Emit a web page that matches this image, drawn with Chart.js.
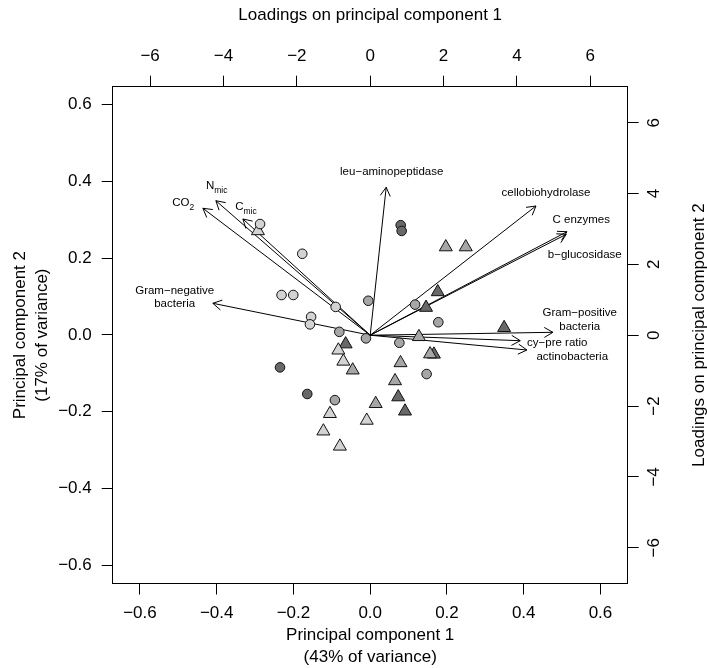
<!DOCTYPE html>
<html>
<head>
<meta charset="utf-8">
<script src="https://cdn.jsdelivr.net/npm/chart.js@4.4.1/dist/chart.umd.min.js"></script>
<style>
  html, body { margin: 0; padding: 0; background: #fff; }
  #wrap { width: 707px; height: 668px; }
</style>
</head>
<body>
<div id="wrap"><canvas id="biplot" width="707" height="668"></canvas></div>
<script>
// SITE SCORES (PC1, PC2), one pair of arrays per marker group
const circleLightPC1 = [-0.287, -0.177, -0.231, -0.2005, -0.090, -0.154, -0.157];
const circleLightPC2 = [0.289, 0.2115, 0.104, 0.104, 0.073, 0.047, 0.0275];
const circleMidPC1 = [-0.005, -0.0805, -0.011, 0.117, 0.1775, 0.076, 0.147, -0.092];
const circleMidPC2 = [0.089, 0.008, -0.009, 0.079, 0.033, -0.0205, -0.102, -0.170];
const circleDarkPC1 = [0.0795, 0.082, -0.235, -0.164];
const circleDarkPC2 = [0.286, 0.271, -0.0846, -0.154];
const triLightPC1 = [-0.2925, -0.083, -0.070, -0.105, -0.009, -0.122, -0.079];
const triLightPC2 = [0.271, -0.040, -0.069, -0.2055, -0.223, -0.251, -0.2905];
const triMidPC1 = [0.197, 0.249, 0.127, 0.156, -0.0456, 0.079, 0.0647, 0.0143];
const triMidPC2 = [0.229, 0.229, -0.005, -0.050, -0.092, -0.073, -0.120, -0.1795];
const triDarkPC1 = [0.176, 0.1455, 0.349, -0.064, 0.166, 0.073, 0.0907];
const triDarkPC2 = [0.112, 0.0713, 0.0186, -0.024, -0.0507, -0.162, -0.199];

// VARIABLE LOADINGS (arrow tips) and where each name sits, in loading units
const varLabels = [
    ['CO_2'], ['N_mic'], ['C_mic'], ['Gram\u2212negative', 'bacteria'],
    ['leu\u2212aminopeptidase'], ['cellobiohydrolase'], ['C enzymes'], ['b\u2212glucosidase'],
    ['Gram\u2212positive', 'bacteria'], ['cy\u2212pre ratio'], ['actinobacteria']
];
const loadPC1 = [-4.562, -4.208, -3.471, -4.290, 0.436, 4.519, 5.364, 5.345, 4.982, 4.091, 4.273];
const loadPC2 = [3.583, 3.797, 3.281, 0.901, 4.176, 3.648, 2.922, 2.849, 0.082, -0.155, -0.418];
const labelPC1 = [-5.10, -4.186, -3.387, -5.331, 0.586, 4.794, 5.754, 5.849, 5.713, 5.10, 5.509];
const labelPC2 = [3.724, 4.212, 3.611, 1.064, 4.622, 4.006, 3.252, 2.264, 0.429, -0.212, -0.607];

// AXES
const scoreTicks = [-0.6, -0.4, -0.2, 0, 0.2, 0.4, 0.6];
const loadTicks = [-6, -4, -2, 0, 2, 4, 6];
const scoreLimX = [-0.671, 0.671];
const scoreLimY = [-0.648, 0.647];
const loadLimX = [-7.02, 7.02];
const loadLimY = [-7.01, 7.016];

const xTitle = ['Principal component 1', '(43% of variance)'];
const yTitle = ['Principal component 2', '(17% of variance)'];
const topTitle = 'Loadings on principal component 1';
const rightTitle = 'Loadings on principal component 2';

const FONT = '"Liberation Sans", Arial, Helvetica, sans-serif';
const LIGHT = '#d3d3d3';
const MID = '#a6a6a6';
const DARK = '#686868';

function zipXY(xs, ys) {
    return xs.map((x, i) => ({ x: x, y: ys[i] }));
}

function pointSet(xs, ys, fill, shape) {
    return {
        data: zipXY(xs, ys),
        xAxisID: 'x',
        yAxisID: 'y',
        pointStyle: shape,
        pointRadius: shape === 'triangle' ? 7.5 : 4.8,
        backgroundColor: fill,
        borderColor: '#111',
        borderWidth: 1,
        order: 0
    };
}

const arrowSets = loadPC1.map((lx, i) => ({
    data: [{ x: 0, y: 0 }, { x: lx, y: loadPC2[i] }],
    xAxisID: 'x2',
    yAxisID: 'y2',
    showLine: true,
    borderColor: '#000',
    borderWidth: 1,
    pointRadius: 0,
    arrow: true,
    order: 1
}));

function fmtMinus(s) {
    return String(s).replace('-', '\u2212');
}

// label with optional subscript written as "main_sub", centred on x
function drawSubText(ctx, text, x, y, size) {
    const parts = text.split('_');
    const subSize = size * 0.74;
    ctx.font = size + 'px ' + FONT;
    const wMain = ctx.measureText(parts[0]).width;
    let wSub = 0;
    if (parts[1]) {
        ctx.font = subSize + 'px ' + FONT;
        wSub = ctx.measureText(parts[1]).width;
    }
    const left = x - (wMain + wSub) / 2;
    ctx.textAlign = 'left';
    ctx.textBaseline = 'middle';
    ctx.font = size + 'px ' + FONT;
    ctx.fillText(parts[0], left, y);
    if (parts[1]) {
        ctx.font = subSize + 'px ' + FONT;
        ctx.fillText(parts[1], left + wMain, y + size * 0.38);
    }
}

const arrowHeads = {
    id: 'arrowHeads',
    afterDatasetDraw(chart, args) {
        const ds = chart.data.datasets[args.index];
        if (!ds.arrow) return;
        const p0 = args.meta.data[0];
        const p1 = args.meta.data[1];
        const ang = Math.atan2(p1.y - p0.y, p1.x - p0.x);
        const len = 10;
        const spread = Math.PI / 6;
        const ctx = chart.ctx;
        ctx.save();
        ctx.strokeStyle = '#000';
        ctx.lineWidth = 1;
        ctx.beginPath();
        ctx.moveTo(p1.x - len * Math.cos(ang - spread), p1.y - len * Math.sin(ang - spread));
        ctx.lineTo(p1.x, p1.y);
        ctx.lineTo(p1.x - len * Math.cos(ang + spread), p1.y - len * Math.sin(ang + spread));
        ctx.stroke();
        ctx.restore();
    }
};

const axisText = {
    id: 'axisText',
    afterDraw(chart) {
        const ctx = chart.ctx;
        const area = chart.chartArea;
        const sx = chart.scales.x, sy = chart.scales.y;
        const sx2 = chart.scales.x2, sy2 = chart.scales.y2;
        const midX = (area.left + area.right) / 2;
        const midY = (area.top + area.bottom) / 2;
        ctx.save();
        ctx.fillStyle = '#000';
        ctx.font = '17px ' + FONT;

        // bottom and left: score scale
        ctx.textAlign = 'center';
        ctx.textBaseline = 'middle';
        sx.ticks.forEach(t => {
            ctx.fillText(fmtMinus(t.value.toFixed(1)), sx.getPixelForValue(t.value), area.bottom + 29.5);
        });
        ctx.textAlign = 'right';
        sy.ticks.forEach(t => {
            ctx.fillText(fmtMinus(t.value.toFixed(1)), area.left - 21, sy.getPixelForValue(t.value));
        });

        // top and right: loading scale
        ctx.textAlign = 'center';
        sx2.ticks.forEach(t => {
            ctx.fillText(fmtMinus(t.value), sx2.getPixelForValue(t.value), area.top - 30);
        });
        sy2.ticks.forEach(t => {
            ctx.save();
            ctx.translate(area.right + 27, sy2.getPixelForValue(t.value));
            ctx.rotate(-Math.PI / 2);
            ctx.fillText(fmtMinus(t.value), 0, 0);
            ctx.restore();
        });

        // titles
        ctx.fillText(xTitle[0], midX, area.bottom + 52);
        ctx.fillText(xTitle[1], midX, area.bottom + 74);
        ctx.fillText(topTitle, midX, area.top - 71);
        ctx.save();
        ctx.translate(20, midY);
        ctx.rotate(-Math.PI / 2);
        ctx.fillText(yTitle[0], 0, 0);
        ctx.fillText(yTitle[1], 0, 22);
        ctx.restore();
        ctx.save();
        ctx.translate(area.right + 72, midY);
        ctx.rotate(-Math.PI / 2);
        ctx.fillText(rightTitle, 0, 0);
        ctx.restore();

        // variable names next to the arrows
        ctx.save();
        ctx.beginPath();
        ctx.rect(area.left, area.top, area.right - area.left, area.bottom - area.top);
        ctx.clip();
        varLabels.forEach((lines, i) => {
            const px = sx2.getPixelForValue(labelPC1[i]);
            const py = sy2.getPixelForValue(labelPC2[i]);
            const step = 13.5;
            const y0 = py - (lines.length - 1) * step / 2;
            lines.forEach((ln, k) => drawSubText(ctx, ln, px, y0 + k * step, 11.5));
        });
        ctx.restore();
        ctx.restore();
    }
};

function axis(position, lim, ticks, size) {
    const horizontal = position === 'top' || position === 'bottom';
    return {
        type: 'linear',
        position: position,
        min: lim[0],
        max: lim[1],
        afterBuildTicks: s => { s.ticks = ticks.map(v => ({ value: v })); },
        afterFit: s => {
            if (horizontal) s.height = size; else s.width = size;
        },
        ticks: { display: false },
        grid: {
            drawOnChartArea: false,
            drawTicks: true,
            tickLength: 11,
            color: '#000',
            lineWidth: 1
        },
        border: { display: true, color: '#000', width: 1 }
    };
}

const chart = new Chart(document.getElementById('biplot'), {
    type: 'scatter',
    data: {
        datasets: [
            ...arrowSets,
            pointSet(circleLightPC1, circleLightPC2, LIGHT, 'circle'),
            pointSet(circleMidPC1, circleMidPC2, MID, 'circle'),
            pointSet(circleDarkPC1, circleDarkPC2, DARK, 'circle'),
            pointSet(triLightPC1, triLightPC2, LIGHT, 'triangle'),
            pointSet(triMidPC1, triMidPC2, MID, 'triangle'),
            pointSet(triDarkPC1, triDarkPC2, DARK, 'triangle')
        ]
    },
    options: {
        responsive: false,
        devicePixelRatio: 1,
        animation: false,
        layout: { padding: 0 },
        plugins: {
            legend: { display: false },
            tooltip: { enabled: false }
        },
        scales: {
            x: axis('bottom', scoreLimX, scoreTicks, 84.5),
            y: axis('left', scoreLimY, scoreTicks, 112.7),
            x2: axis('top', loadLimX, loadTicks, 86.7),
            y2: axis('right', loadLimY, loadTicks, 79.3)
        }
    },
    plugins: [arrowHeads, axisText]
});
</script>
</body>
</html>
